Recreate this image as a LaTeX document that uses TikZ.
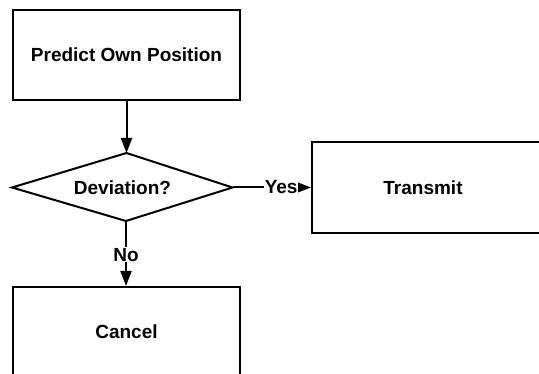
\documentclass[tikz,border=0pt]{standalone}
\usepackage{fontspec}
\setmainfont{Liberation Sans}
\usetikzlibrary{arrows.meta}
\begin{document}
\begin{tikzpicture}[x=1pt,y=-1pt,
  every node/.style={font=\fontsize{19}{22}\selectfont\bfseries},
  box/.style={draw,line width=2pt,minimum width=227pt,minimum height=90pt,inner sep=0pt},
  txt/.style={inner sep=0pt},
  lbl/.style={fill=white,inner sep=0.8pt},
  conn/.style={line width=2pt},
  arr/.style={conn,-{Triangle[length=15pt,width=11pt]}}]
\useasboundingbox (0,0) rectangle (539,374);
\clip (0,0) rectangle (539,374);
\fill[white] (0,0) rectangle (539,374);
% top box
\node[box] (pred) at (126.5,55) {Predict Own Position};
% diamond
\coordinate (dT) at (126.5,153);
\coordinate (dR) at (232.5,187.5);
\coordinate (dB) at (126,221);
\coordinate (dL) at (12,187.5);
\draw[conn,line join=miter] (dT) -- (dR) -- (dB) -- (dL) -- cycle;
\node[txt] (dev) at (122.5,187.5) {Deviation?};
% transmit
\node[box,minimum width=260pt,minimum height=91pt] (tbox) at (442,187.5) {};
\node[txt] (transmit) at (423,187.5) {Transmit};
% cancel
\node[box] (cancel) at (126.5,332) {Cancel};
% connectors
\draw[arr] (pred.south) -- (dT);
\draw[arr] (dR) -- node[lbl,pos=0.62] (yes) {Yes} (tbox.west);
\draw[arr] (dB) -- node[lbl,pos=0.52] (no) {No} (cancel.north -| dB);
\end{tikzpicture}
\end{document}
